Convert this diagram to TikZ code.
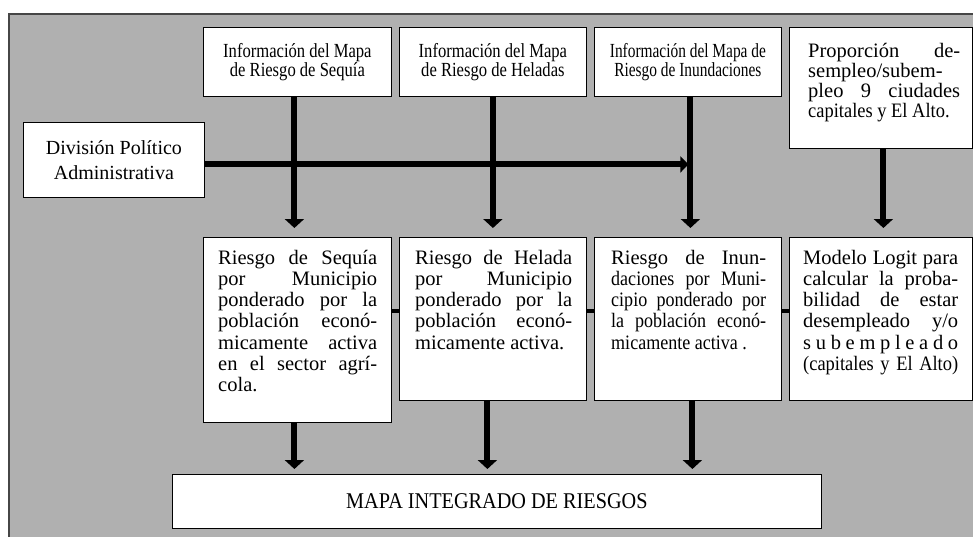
\documentclass[tikz,border=0pt]{standalone}
\usepackage{fontspec}
\setmainfont{Liberation Serif}
\newfontfamily\plainf{Liberation Serif}[FakeStretch=1.0]
\newfontfamily\cndA{Liberation Serif}[FakeStretch=0.83]
\newfontfamily\cndB{Liberation Serif}[FakeStretch=0.77]
\newfontfamily\cndC{Liberation Serif}[FakeStretch=0.9]
\newfontfamily\cndD{Liberation Serif}[FakeStretch=0.88]
\usetikzlibrary{arrows.meta}
\definecolor{bggray}{RGB}{176,176,176}
\definecolor{bgline}{RGB}{70,70,70}
\newcommand{\jl}[1]{\makebox[\linewidth][s]{#1}\\}
\newcommand{\bodytext}[3]{\parbox[t]{#1}{\plainf\fontsize{20.5}{#2}\selectfont #3}}
\begin{document}
\begin{tikzpicture}[x=1pt,y=-1pt,
  box/.style={draw=black,line width=0.8pt,fill=white,rectangle,inner sep=0pt,anchor=north west},
  body/.style={anchor=base west,inner sep=0pt},
  arr/.style={line width=6pt,-{Triangle[width=19pt,length=9pt]}},
  harr/.style={line width=6pt,-{Triangle[width=16pt,length=8pt]}},
  stub/.style={line width=4.5pt}]
\useasboundingbox (0,0) rectangle (973,536);
\path[fill=bggray,draw=bgline,line width=1.5pt] (9,14) rectangle (990,550);

% top row
\node[box,minimum width=188pt,minimum height=69pt,align=center,
  font=\cndA\fontsize{20}{19}\selectfont] (t1) at (203,27) {Información del Mapa\\de Riesgo de Sequía};
\node[box,minimum width=187pt,minimum height=69pt,align=center,
  font=\cndA\fontsize{20}{19}\selectfont] (t2) at (399,27) {Información del Mapa\\de Riesgo de Heladas};
\node[box,minimum width=187pt,minimum height=69pt,align=center,
  font=\cndB\fontsize{20}{19}\selectfont] (t3) at (594,27) {Información del Mapa de\\Riesgo de Inundaciones};
\node[box,minimum width=183pt,minimum height=121pt] (t4) at (789,27) {};
\node[body] (t4x) at ([shift={(19pt,-30pt)}]t4.north west)
  {\bodytext{152pt}{20}{\jl{Proporción de-}\jl{sempleo/subem-}\jl{pleo 9 ciudades}{\cndC capitales y El Alto.}}};

% division
\node[box,minimum width=181pt,minimum height=75pt,align=center,
  font=\plainf\fontsize{20}{25}\selectfont] (div) at (23,122) {División Político\\Administrativa};

% bottom row
\node[box,minimum width=188pt,minimum height=185pt] (b1) at (203,237) {};
\node[body] (b1x) at ([shift={(15pt,-27pt)}]b1.north west)
  {\bodytext{159pt}{21.3}{\jl{Riesgo de Sequía}\jl{por Municipio}\jl{ponderado por la}\jl{población econó-}\jl{micamente activa}\jl{en el sector agrí-}cola.}};
\node[box,minimum width=187pt,minimum height=163pt] (b2) at (399,237) {};
\node[body] (b2x) at ([shift={(16pt,-27pt)}]b2.north west)
  {\bodytext{157pt}{21.3}{\jl{Riesgo de Helada}\jl{por Municipio}\jl{ponderado por la}\jl{población econó-}micamente activa.}};
\node[box,minimum width=187pt,minimum height=163pt] (b3) at (594,237) {};
\node[body] (b3x) at ([shift={(17pt,-27pt)}]b3.north west)
  {\bodytext{155pt}{21.3}{\jl{Riesgo de Inun-}{\cndD\jl{daciones por Muni-}\jl{cipio ponderado por}\jl{la población econó-}micamente activa .}}};
\node[box,minimum width=183pt,minimum height=163pt] (b4) at (789,237) {};
\node[body] (b4x) at ([shift={(14pt,-27pt)}]b4.north west)
  {\bodytext{155pt}{21.3}{\jl{Modelo Logit para}\jl{calcular la proba-}\jl{bilidad de estar}\jl{desempleado y/o}\jl{s u b e m p l e a d o}{\cndC\makebox[\linewidth][s]{(capitales y El Alto)}}}};

% result
\node[box,minimum width=649pt,minimum height=54pt,
  font=\cndC\fontsize{22.5}{24}\selectfont] (map) at (172,474) {MAPA INTEGRADO DE RIESGOS};

% vertical arrows top -> bottom
\draw[arr,shorten >=9pt] ([xshift=-3pt]t1.south) -- ([xshift=-3pt]b1.north);
\draw[arr,shorten >=9pt] (t2.south) -- (b2.north);
\draw[arr,shorten >=9pt] ([xshift=2.5pt]t3.south) -- ([xshift=2.5pt]b3.north);
\draw[arr,shorten >=9pt] ([xshift=2.5pt]t4.south) -- ([xshift=2.5pt]b4.north);

% horizontal arrow from division
\coordinate (h) at ([yshift=-4.5pt]div.east);
\coordinate (v3) at ([xshift=2.5pt]t3.south);
\draw[harr,shorten >=2pt] (h) -- (h -| v3);

% stubs between bottom boxes
\coordinate (sy) at (0,311);
\draw[stub] (b1.east |- sy) -- (b2.west |- sy);
\draw[stub] (b2.east |- sy) -- (b3.west |- sy);
\draw[stub] (b3.east |- sy) -- (b4.west |- sy);

% arrows to the integrated map
\coordinate (m1) at ([xshift=-3pt]b1.south);
\coordinate (m2) at ([xshift=-5.5pt]b2.south);
\coordinate (m3) at ([xshift=4.5pt]b3.south);
\draw[arr,shorten >=5pt] (m1) -- (m1 |- map.north);
\draw[arr,shorten >=5pt] (m2) -- (m2 |- map.north);
\draw[arr,shorten >=5pt] (m3) -- (m3 |- map.north);
\end{tikzpicture}
\end{document}
